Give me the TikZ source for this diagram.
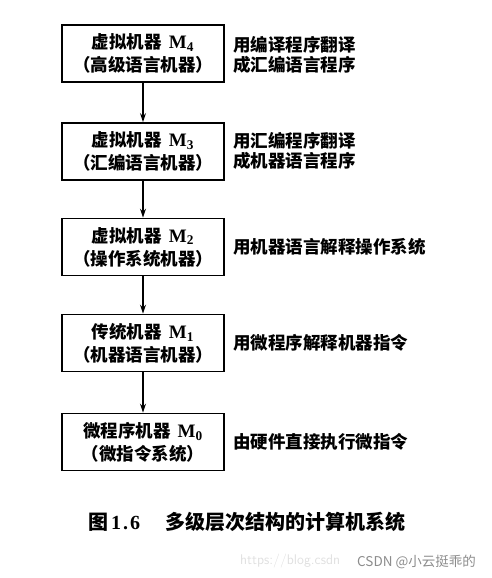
\documentclass[tikz,border=0pt]{standalone}
\usepackage{fontspec}
\setmainfont{Liberation Serif}
\newfontfamily\cjk{Noto Sans CJK SC}
\usetikzlibrary{arrows.meta}
\newcommand{\Mx}[1]{\kern7pt{\rmfamily\bfseries\fontsize{19}{22}\selectfont M\textsubscript{#1}}}
\begin{document}
\begin{tikzpicture}[x=1pt,y=-1pt,
  mbox/.style={draw=black, line width=1.8pt, minimum width=162pt, minimum height=57pt,
    inner sep=0pt, align=center, font=\fontsize{17.5}{23}\selectfont\cjk\bfseries},
  note/.style={anchor=west, inner sep=0pt, align=left, font=\fontsize{17.5}{20}\selectfont\cjk\bfseries},
  flow/.style={line width=1.4pt, -{Stealth[length=9pt,width=6pt]}}]
\useasboundingbox (0,0) rectangle (491,578);
\node[mbox] (m4) at (143,53.5) {虚拟机器\Mx{4}\\（高级语言机器）};
\node[mbox] (m3) at (143,151.5) {虚拟机器\Mx{3}\\（汇编语言机器）};
\node[mbox] (m2) at (143,247) {虚拟机器\Mx{2}\\（操作系统机器）};
\node[mbox] (m1) at (143,343) {传统机器\Mx{1}\\（机器语言机器）};
\node[mbox] (m0) at (143,442) {微程序机器\Mx{0}\\（微指令系统）};
\node[note] (t4) at (233,55) {用编译程序翻译\\成汇编语言程序};
\node[note] (t3) at (233,151) {用汇编程序翻译\\成机器语言程序};
\node[note] (t2) at (233,247) {用机器语言解释操作系统};
\node[note] (t1) at (233,343) {用微程序解释机器指令};
\node[note] (t0) at (233,442) {由硬件直接执行微指令};
\draw[flow] (m4) -- (m3);
\draw[flow] (m3) -- (m2);
\draw[flow] (m2) -- (m1);
\draw[flow] (m1) -- (m0);
\node[anchor=west, inner sep=0pt, font=\fontsize{20}{24}\selectfont\bfseries] (cap) at (88,522)
  {{\cjk 图}\kern3pt 1\kern2pt.\kern2pt6\kern25pt{\cjk 多级层次结构的计算机系统}};
\node[anchor=west, inner sep=0pt, text=black!12, font=\fontsize{14}{16}\selectfont\sffamily] (url) at (240,561) {https://blog.csdn};
\node[anchor=west, inner sep=0pt, text=black!45, font=\fontsize{13.5}{16}\selectfont\cjk] (wm) at (357,562) {CSDN @小云挺乖的};
\end{tikzpicture}
\end{document}
